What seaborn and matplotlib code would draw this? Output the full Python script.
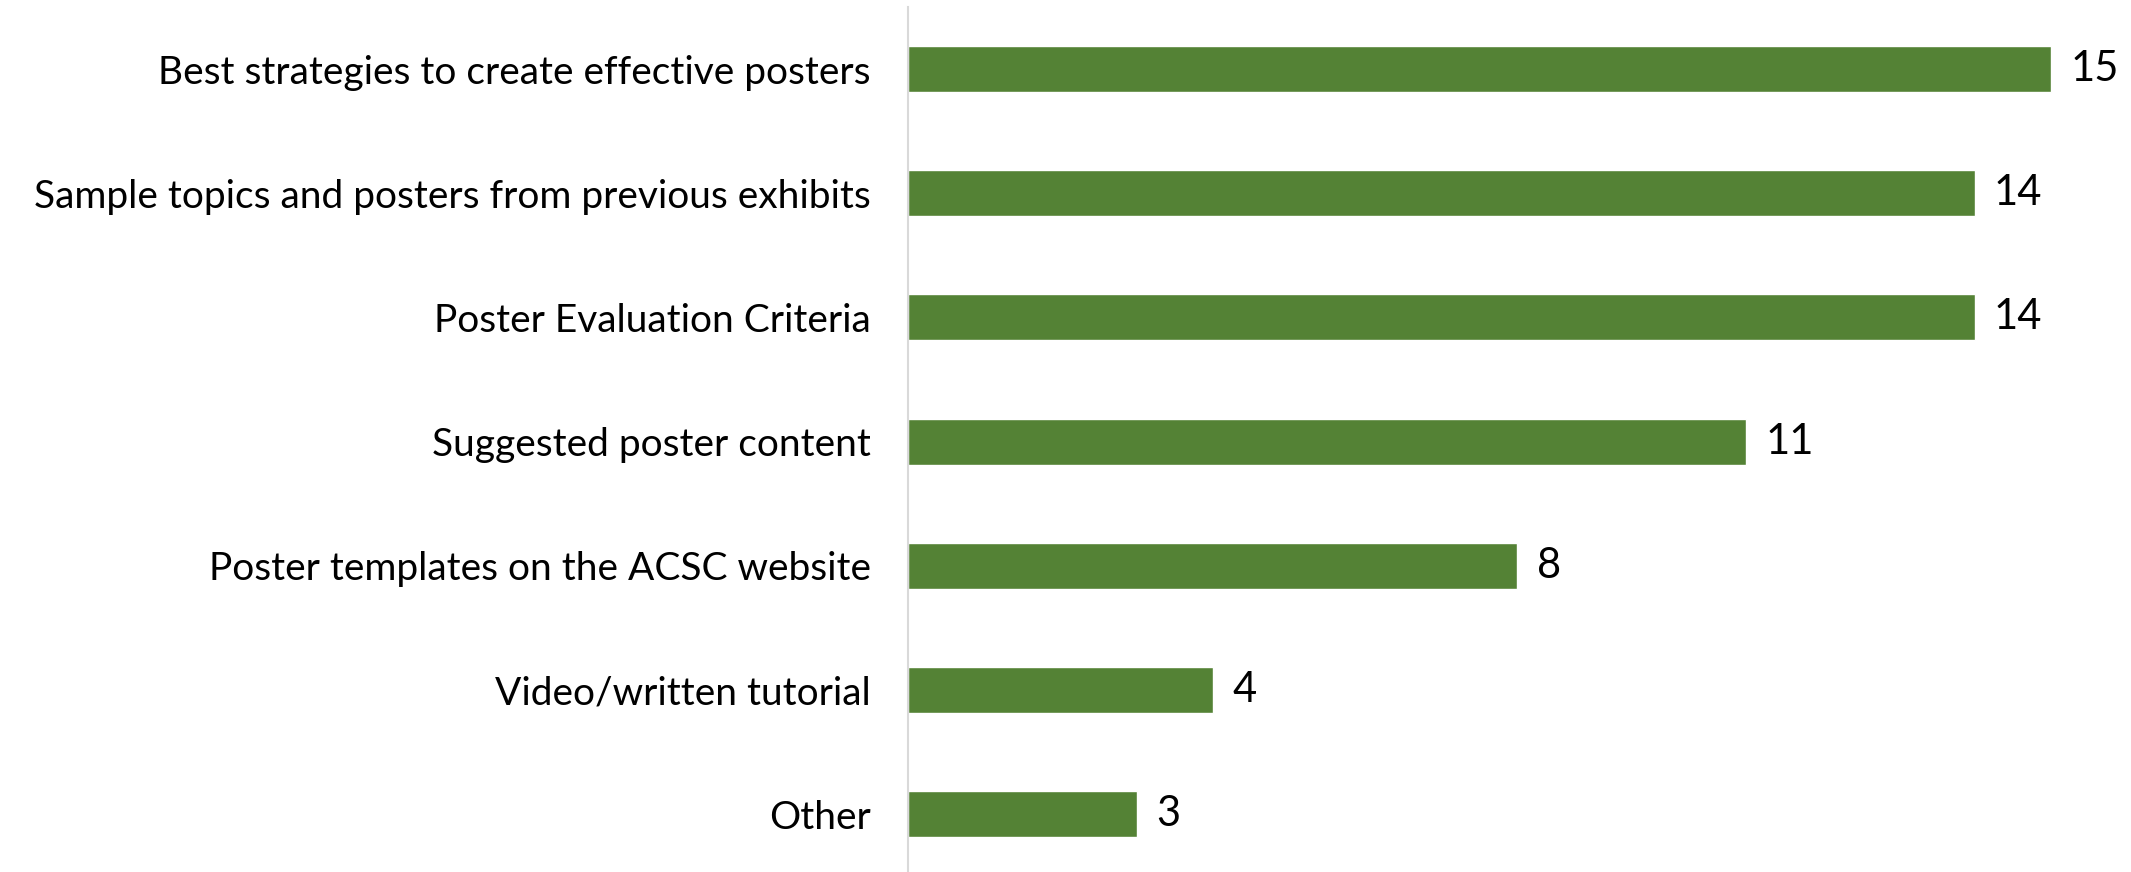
import matplotlib
matplotlib.use("Agg")
import matplotlib.pyplot as plt
import seaborn as sns
import pandas as pd

# Survey responses: which resources would help with posters
categories = [
    "Best strategies to create effective posters",
    "Sample topics and posters from previous exhibits",
    "Poster Evaluation Criteria",
    "Suggested poster content",
    "Poster templates on the ACSC website",
    "Video/written tutorial",
    "Other",
]
counts = [15, 14, 14, 11, 8, 4, 3]

df = pd.DataFrame({"resource": categories, "count": counts})

sns.set_style("white")
plt.rcParams["font.family"] = ["Lato", "DejaVu Sans"]

fig = plt.figure(figsize=(21.31, 8.72), dpi=100)
ax = fig.add_axes([0.4261, -0.005, 0.572, 0.997])

sns.barplot(data=df, x="count", y="resource", orient="h", color="#548235",
            saturation=1, width=0.37, ax=ax)

ax.set_xlim(0, 16)
ax.set_ylim(6.5, -0.5)
ax.set_xlabel("")
ax.set_ylabel("")
ax.set_xticks([])
ax.tick_params(axis="y", length=0, pad=27, labelsize=28, labelcolor="black")

for side in ["top", "right", "bottom"]:
    ax.spines[side].set_visible(False)
ax.spines["left"].set_color("#D9D9D9")
ax.spines["left"].set_linewidth(1.5)

ax.bar_label(ax.containers[0], labels=[str(c) for c in counts],
             padding=14, fontsize=30, color="black")

fig.savefig("out.png", dpi=100)
